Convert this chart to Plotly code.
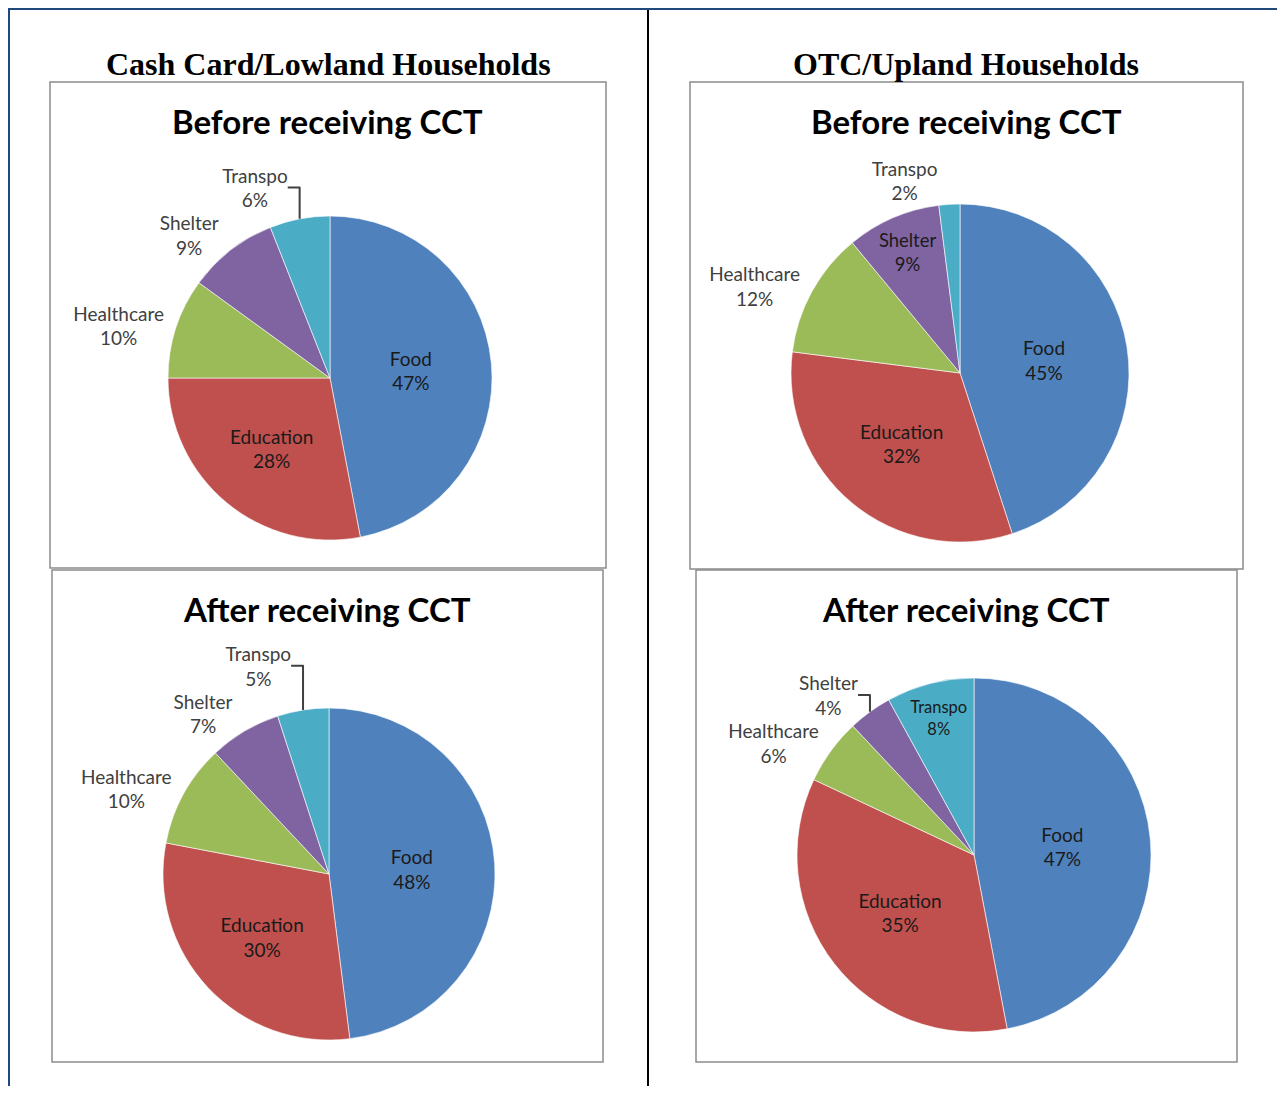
import plotly.graph_objects as go

# ---------------- data ----------------
categories = ["Food", "Education", "Healthcare", "Shelter", "Transpo"]
lowland_before = [47, 28, 10, 9, 6]
lowland_after = [48, 30, 10, 7, 5]
upland_before = [45, 32, 12, 9, 2]
upland_after = [47, 35, 6, 4, 8]
section_titles = ["Cash Card/Lowland Households", "OTC/Upland Households"]
chart_titles = ["Before receiving CCT", "After receiving CCT"]
colors = ["#4F81BD", "#C0504D", "#9BBB59", "#8064A2", "#4BACC6"]

# ---------------- layout helpers ----------------
OFF = 8            # body margin of the page
W, H = 1269, 1078  # figure size


def px(x):
    return (x - OFF) / W


def py(y):
    return 1 - (y - OFF) / H


def domain(cx, cy, r):
    return dict(x=[px(cx - r), px(cx + r)], y=[py(cy + r), py(cy - r)])


charts = [
    # values, center x, center y, radius, text positions
    (lowland_before, 330, 378, 162, ["inside", "inside", "outside", "outside", "outside"]),
    (upland_before, 960, 373, 169, ["inside", "inside", "outside", "inside", "outside"]),
    (lowland_after, 329, 874, 166, ["inside", "inside", "outside", "outside", "outside"]),
    (upland_after, 974, 855, 177, ["inside", "inside", "outside", "outside", "inside"]),
]

fig = go.Figure()
for vals, cx, cy, r, tpos in charts:
    fig.add_trace(go.Pie(
        labels=categories,
        values=vals,
        sort=False,
        direction="clockwise",
        rotation=0,
        domain=domain(cx, cy, r),
        marker=dict(colors=colors, line=dict(color="rgba(255,255,255,0.6)", width=1)),
        texttemplate="%{label}<br>%{value}%",
        textposition=tpos,
        insidetextorientation="horizontal",
        insidetextfont=dict(family="Lato", size=19, color="#1a1a1a"),
        outsidetextfont=dict(family="Lato", size=19, color="#404040"),
        hoverinfo="label+value",
        showlegend=False,
    ))

shapes = []
# panel borders
panels = [(50, 82, 606, 568), (690, 82, 1243, 569), (52, 570, 603, 1062), (696, 570, 1237, 1062)]
for x0, y0, x1, y1 in panels:
    shapes.append(dict(type="rect", xref="paper", yref="paper",
                       x0=px(x0), x1=px(x1), y0=py(y1), y1=py(y0),
                       line=dict(color="#8c8c8c", width=1.5), fillcolor="rgba(0,0,0,0)", layer="below"))
# outer blue frame (top and left)
shapes.append(dict(type="rect", xref="paper", yref="paper", x0=px(8), x1=1.02, y0=py(10), y1=py(8),
                   line=dict(width=0), fillcolor="#1F497D"))
shapes.append(dict(type="rect", xref="paper", yref="paper", x0=px(8), x1=px(10), y0=-0.02, y1=py(8),
                   line=dict(width=0), fillcolor="#1F497D"))
# middle black divider
shapes.append(dict(type="rect", xref="paper", yref="paper", x0=px(647), x1=px(649), y0=-0.02, y1=py(10),
                   line=dict(width=0), fillcolor="#000000"))

annotations = []
for txt, cx in zip(section_titles, [329, 966]):
    annotations.append(dict(text="<b>" + txt + "</b>", x=px(cx), y=py(64), xref="paper", yref="paper",
                            showarrow=False, xanchor="center", yanchor="middle",
                            font=dict(family="Liberation Serif", size=32, color="#000000")))
for txt, cx, cy in [(chart_titles[0], 328, 121), (chart_titles[0], 966, 121),
                    (chart_titles[1], 327, 609), (chart_titles[1], 966, 609)]:
    annotations.append(dict(text="<b>" + txt + "</b>", x=px(cx), y=py(cy), xref="paper", yref="paper",
                            showarrow=False, xanchor="center", yanchor="middle",
                            font=dict(family="Lato", size=33, color="#000000")))

fig.update_layout(
    width=W, height=H,
    margin=dict(l=0, r=0, t=0, b=0),
    paper_bgcolor="white", plot_bgcolor="white",
    shapes=shapes, annotations=annotations,
)

fig.write_html("out.html")
